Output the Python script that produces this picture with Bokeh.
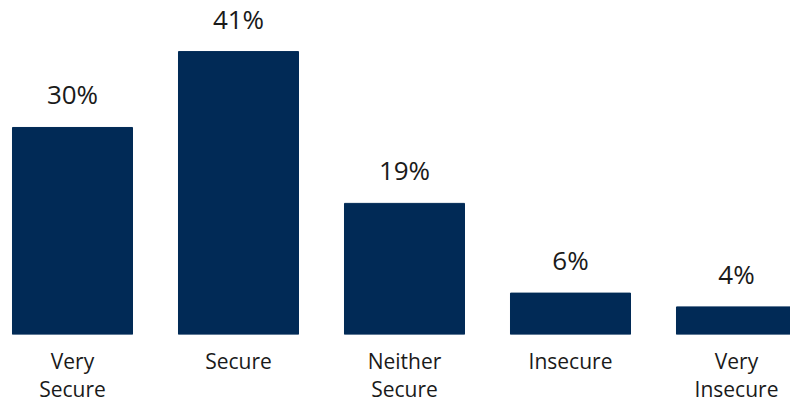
from bokeh.plotting import figure
from bokeh.models import FixedTicker, Range1d, ColumnDataSource
from bokeh.core.properties import value
from bokeh.embed import file_html
from bokeh.resources import INLINE

categories = ["Very\nSecure", "Secure", "Neither\nSecure", "Insecure", "Very\nInsecure"]
values = [30, 41, 19, 6, 4]
labels = ["30%", "41%", "19%", "6%", "4%"]

xs = list(range(len(categories)))
src = ColumnDataSource(dict(x=xs, top=values, label=labels))

p = figure(width=790, height=405, output_backend="svg", toolbar_location=None,
           x_range=Range1d(-0.4337, 4.3253), y_range=Range1d(0, 48.4),
           min_border_left=0, min_border_right=0, min_border_top=0, min_border_bottom=71)
p.vbar(x="x", top="top", bottom=0, width=0.723, source=src, color="#012A56")
p.text(x="x", y="top", text="label", source=src, text_align="center", text_baseline="alphabetic",
       y_offset=-33, text_font=value("Open Sans"), text_font_size="26px", text_color="#1a1a1a")

p.xaxis.ticker = FixedTicker(ticks=xs)
p.xaxis.major_label_overrides = {i: c for i, c in enumerate(categories)}
p.xaxis.major_label_text_font = "Open Sans"
p.xaxis.major_label_text_font_size = "21px"
p.xaxis.major_label_text_line_height = 1.0
p.xaxis.major_label_text_color = "#1a1a1a"
p.xaxis.major_label_standoff = 6
p.xaxis.axis_line_color = None
p.xaxis.major_tick_line_color = None
p.xaxis.minor_tick_line_color = None
p.yaxis.visible = False
p.grid.visible = False
p.outline_line_color = None

open("out.html", "w").write(file_html(p, INLINE))
